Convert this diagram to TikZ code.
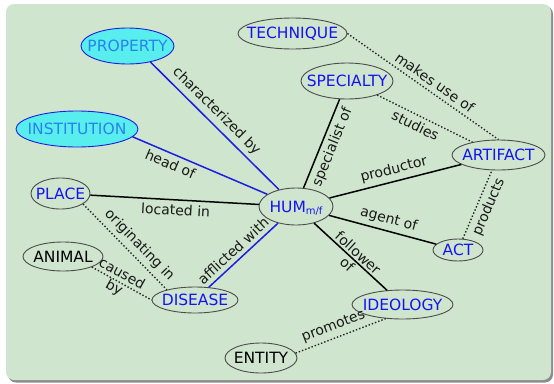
\documentclass[tikz,border=0pt]{standalone}
\usepackage{fontspec}
\setmainfont{DejaVu Sans}
\usepackage{tikz}
\usetikzlibrary{shapes.geometric}

\definecolor{panelgreen}{RGB}{207,229,206}
\definecolor{conceptblue}{RGB}{20,20,240}
\definecolor{edgeblue}{RGB}{30,30,225}
\definecolor{cyanfill}{RGB}{88,238,238}
\definecolor{cyantext}{RGB}{40,130,240}

\tikzset{
  concept/.style={ellipse, draw=black!70, line width=0.9pt, inner sep=0pt,
    text=conceptblue, font=\fontsize{15.5}{18}\selectfont,
    execute at begin node={\hbox to 0pt\bgroup\hss},
    execute at end node={\hss\egroup}},
  plain/.style={concept, text=black},
  feature/.style={concept, draw=edgeblue, fill=cyanfill, text=cyantext},
  sz/.style 2 args={minimum width=#1pt, minimum height=#2pt},
  rel/.style={sloped, font=\fontsize{14}{16}\selectfont, inner sep=4pt, text=black!90},
  link/.style={draw=black, line width=1.5pt},
  bluelink/.style={draw=edgeblue, line width=1.5pt},
  dotlink/.style={draw=black!85, line width=1.4pt, dotted}
}

\begin{document}
\begin{tikzpicture}[x=1pt, y=-1pt]
  \useasboundingbox (0,0) rectangle (554,383);
  \fill[black!45, rounded corners=8pt] (8,6) rectangle (553,382.5);
  \fill[panelgreen, rounded corners=8pt] (6,4) rectangle (551,380);

  \node[feature, sz={93}{36}] (property) at (127.5,46) {PROPERTY};
  \node[feature, sz={122}{36}] (institution) at (77,129) {INSTITUTION};
  \node[concept, sz={109}{31}] (technique) at (292.5,33.5) {TECHNIQUE};
  \node[concept, sz={92}{36}] (specialty) at (347,81) {SPECIALTY};
  \node[concept, sz={93}{30}] (artifact) at (498.5,155) {ARTIFACT};
  \node[concept, sz={59}{31}] (place) at (60.5,193.5) {PLACE};
  \node[concept, sz={74}{37}] (hum) at (296,206.5)
    {HUM{\fontsize{10}{12}\selectfont\raisebox{-2.5pt}[0pt][0pt]{m/f}}};
  \node[plain, sz={80}{29}] (animal) at (63,256.5) {ANIMAL};
  \node[concept, sz={86}{26}] (disease) at (195,300) {DISEASE};
  \node[concept, sz={50}{22}] (act) at (458,250) {ACT};
  \node[concept, sz={101}{29}] (ideology) at (402.5,304.5) {IDEOLOGY};
  \node[plain, sz={72}{30}] (entity) at (261,358) {ENTITY};

  \draw[bluelink] (property.-35) -- node[rel, above, pos=.45] {characterized by} (hum);
  \draw[bluelink] (institution.-8) -- node[rel, below, pos=.31] {head of} (hum);
  \draw[link] (place) -- node[rel, below, pos=.51] {located in} (hum);
  \draw[bluelink] (disease) -- node[rel, above, pos=.45] {afflicted with} (hum);
  \draw[link] (hum) -- node[rel, below, pos=.51] {specialist of} (specialty);
  \draw[link] (hum) -- node[rel, above, pos=.51] {productor} (artifact);
  \draw[link] (hum) -- node[rel, above, pos=.53] {agent of} (act);
  \draw[link] (hum) -- node[rel, align=center, pos=.53] {follower\\of} (ideology);

  \draw[dotlink] (technique.east) -- node[rel, above, pos=.54] {makes use of} (artifact.north);
  \draw[dotlink] (specialty.-25) -- node[rel, below, pos=.45] {studies} (artifact);
  \draw[dotlink] (act) -- node[rel, below, pos=.53] {products} (artifact);
  \draw[dotlink] (place.-25) -- node[rel, above, pos=.575] {originating in} (disease.160);
  \draw[dotlink] (animal.-20) -- node[rel, align=center, pos=.435] {caused\\by} (disease.west);
  \draw[dotlink] (entity.8) -- node[rel, above, pos=.465] {promotes} (ideology.-140);
\end{tikzpicture}
\end{document}
